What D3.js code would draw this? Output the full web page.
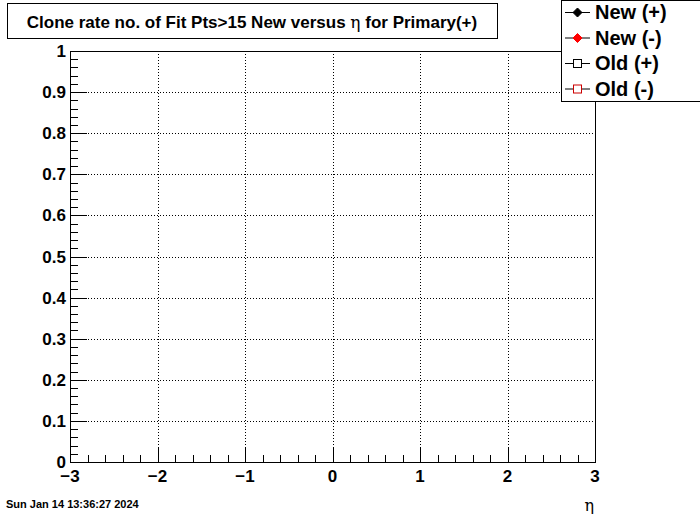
<!DOCTYPE html>
<html><head><meta charset="utf-8">
<script src="https://cdn.jsdelivr.net/npm/d3@7"></script>
<style>body{margin:0;background:#fff}svg{display:block}</style>
</head><body>
<script>
const xDomain = [-3, 3];
const yDomain = [0, 1];
const xTicks = [-3, -2, -1, 0, 1, 2, 3];
const yTicks = [0, 0.1, 0.2, 0.3, 0.4, 0.5, 0.6, 0.7, 0.8, 0.9, 1];
const seriesNames = ["New (+)", "New (-)", "Old (+)", "Old (-)"];
const seriesColors = ["#000000", "#ff0000", "#000000", "#cc0000"];
const seriesFilled = [true, true, false, false];
const titleText = "Clone rate no. of Fit Pts>15 New versus ";
const titleTail = " for Primary(+)";
const dateText = "Sun Jan 14 13:36:27 2024";

const W = 700, H = 514;
const m = {l: 70, r: 595, t: 51, b: 462};
const svg = d3.select("body").append("svg").attr("width", W).attr("height", H);
const x = d3.scaleLinear().domain(xDomain).range([m.l, m.r]);
const y = d3.scaleLinear().domain(yDomain).range([m.b, m.t]);
const font = "Liberation Sans, Arial, sans-serif";

// grid
const g = svg.append("g");
g.selectAll(".gx").data(xTicks.slice(1, -1)).enter().append("line")
  .attr("x1", d => Math.round(x(d)) + 0.5).attr("x2", d => Math.round(x(d)) + 0.5)
  .attr("y1", m.t).attr("y2", m.b).attr("stroke", "#000").attr("stroke-dasharray", "1,2");
g.selectAll(".gy").data(yTicks.slice(1, -1)).enter().append("line")
  .attr("y1", d => Math.round(y(d)) + 0.5).attr("y2", d => Math.round(y(d)) + 0.5)
  .attr("x1", m.l).attr("x2", m.r).attr("stroke", "#000").attr("stroke-dasharray", "1,2");

// minor ticks
const xMinor = d3.range(-3, 3.0001, 0.2);
const yMinor = d3.range(0, 1.0001, 0.02);
svg.selectAll(".mx").data(xMinor).enter().append("line")
  .attr("x1", d => Math.round(x(d)) + 0.5).attr("x2", d => Math.round(x(d)) + 0.5)
  .attr("y1", m.b).attr("y2", m.b - 7).attr("stroke", "#000");
svg.selectAll(".Mx").data(xTicks).enter().append("line")
  .attr("x1", d => Math.round(x(d)) + 0.5).attr("x2", d => Math.round(x(d)) + 0.5)
  .attr("y1", m.b).attr("y2", m.b - 14).attr("stroke", "#000");
svg.selectAll(".my").data(yMinor).enter().append("line")
  .attr("y1", d => Math.round(y(d)) + 0.5).attr("y2", d => Math.round(y(d)) + 0.5)
  .attr("x1", m.l).attr("x2", m.l + 8).attr("stroke", "#000");
svg.selectAll(".My").data(yTicks).enter().append("line")
  .attr("y1", d => Math.round(y(d)) + 0.5).attr("y2", d => Math.round(y(d)) + 0.5)
  .attr("x1", m.l).attr("x2", m.l + 17).attr("stroke", "#000");

// frame
svg.append("rect").attr("x", m.l + 0.5).attr("y", m.t + 0.5)
  .attr("width", m.r - m.l).attr("height", m.b - m.t)
  .attr("fill", "none").attr("stroke", "#000");

// tick labels
svg.selectAll(".ly").data(yTicks).enter().append("text")
  .attr("x", 66).attr("y", d => y(d) + 6).attr("text-anchor", "end")
  .attr("font-family", font).attr("font-weight", "bold").attr("font-size", 17)
  .text(d => d3.format("")(d));
svg.selectAll(".lx").data(xTicks).enter().append("text")
  .attr("x", d => x(d)).attr("y", 482).attr("text-anchor", "middle")
  .attr("font-family", font).attr("font-weight", "bold").attr("font-size", 17)
  .text(d => d < 0 ? "\u2212" + Math.abs(d) : String(d));

// axis title
svg.append("text").attr("x", 594).attr("y", 511).attr("text-anchor", "end")
  .attr("font-family", "DejaVu Serif, serif").attr("font-size", 16).text("\u03b7");

// date
svg.append("text").attr("x", 6).attr("y", 508)
  .attr("font-family", font).attr("font-weight", "bold").attr("font-size", 11).text(dateText);

// title box
svg.append("rect").attr("x", 7.5).attr("y", 3.5).attr("width", 490).attr("height", 35)
  .attr("fill", "#fff").attr("stroke", "#000");
const tt = svg.append("text").attr("x", 252).attr("y", 28).attr("text-anchor", "middle")
  .attr("font-family", font).attr("font-weight", "bold").attr("font-size", 17);
tt.append("tspan").text(titleText);
tt.append("tspan").attr("font-weight", "normal").attr("font-family", "DejaVu Serif, serif").text("\u03b7");
tt.append("tspan").text(titleTail);

// legend
svg.append("rect").attr("x", 561.5).attr("y", 0.5).attr("width", 140).attr("height", 101)
  .attr("fill", "#fff").attr("stroke", "#000");
const leg = svg.selectAll(".leg").data(seriesNames).enter().append("g")
  .attr("transform", (d, i) => `translate(0,${12 + i * 25.5})`);
leg.append("line").attr("x1", 565).attr("x2", 590).attr("y1", 0.5).attr("y2", 0.5)
  .attr("stroke", "#000");
leg.each(function(d, i) {
  const s = d3.select(this);
  if (seriesFilled[i]) {
    s.append("path").attr("d", "M0,-4.5L4.5,0L0,4.5L-4.5,0Z")
      .attr("transform", "translate(577.5,0.5)").attr("fill", seriesColors[i])
      .attr("stroke", seriesColors[i]).attr("stroke-width", 1).attr("stroke-linejoin", "round");
  } else {
    s.append("rect").attr("x", 573.5).attr("y", -3.5).attr("width", 8).attr("height", 8)
      .attr("fill", "#fff").attr("stroke", seriesColors[i]);
  }
});
leg.append("text").attr("x", 595).attr("y", 7).attr("font-family", font)
  .attr("font-weight", "bold").attr("font-size", 20).text(d => d);
</script>
</body></html>
